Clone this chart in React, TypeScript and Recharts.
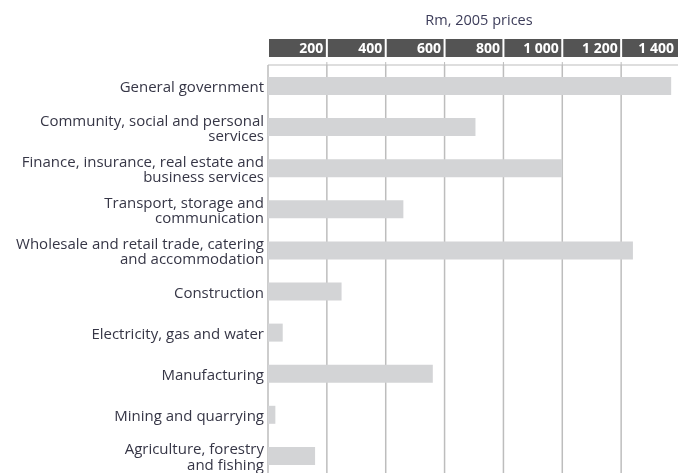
import { BarChart, Bar, XAxis, YAxis, CartesianGrid } from 'recharts';

const categories = [
  'General government',
  'Community, social and personal\nservices',
  'Finance, insurance, real estate and\nbusiness services',
  'Transport, storage and\ncommunication',
  'Wholesale and retail trade, catering\nand accommodation',
  'Construction',
  'Electricity, gas and water',
  'Manufacturing',
  'Mining and quarrying',
  'Agriculture, forestry\nand fishing',
];
const values = [1370, 705, 1000, 460, 1240, 250, 50, 560, 25, 160];
const xTicks = [200, 400, 600, 800, 1000, 1200, 1400];

const data = categories.map((name, i) => ({ name, value: values[i] }));

const PLOT_W = 412;
const STEP = (PLOT_W * 200) / 1400;
const VISIBLE_RIGHT = 666; // last header label stays inside the page
const FONT = '"Open Sans", sans-serif';

const fmt = (v: number) =>
  v >= 1000 ? `${Math.floor(v / 1000)} ${String(v % 1000).padStart(3, '0')}` : String(v);

// dark header cell ending at each tick, label right-aligned in it
function HeaderTick(props: any) {
  const { x, y, payload } = props;
  return (
    <g>
      <rect x={x - STEP + 1} y={y - 21} width={STEP - 2} height={18} fill="#545454" />
      <text
        x={Math.min(x - 3.5, VISIBLE_RIGHT)}
        y={y - 7}
        textAnchor="end"
        fill="#fff"
        fontSize={14}
        fontWeight={700}
        fontFamily={FONT}
      >
        {fmt(payload.value)}
      </text>
    </g>
  );
}

function CategoryTick(props: any) {
  const { x, y, payload } = props;
  const lines = String(payload.value).split('\n');
  const lh = 15.5;
  const top = y + 1.5 - ((lines.length - 1) * lh) / 2;
  return (
    <text x={x} y={top} textAnchor="end" fill="#363646" fontSize={15} fontFamily={FONT}>
      {lines.map((l, i) => (
        <tspan key={i} x={x} y={top + i * lh} dy="0.35em">
          {l}
        </tspan>
      ))}
    </text>
  );
}

export default function App() {
  return (
    <div style={{ position: 'fixed', left: 8, top: 8 }}>
      <BarChart
        width={672}
        height={468}
        data={data}
        layout="vertical"
        margin={{ top: 0, right: 0, bottom: 0, left: 0 }}
      >
        <CartesianGrid horizontal={false} stroke="#bdbdbd" strokeWidth={1.5} />
        <XAxis
          type="number"
          orientation="top"
          domain={[0, 1400]}
          ticks={xTicks}
          interval={0}
          height={57}
          tickSize={3}
          tickMargin={2}
          stroke="#bdbdbd"
          tick={<HeaderTick />}
          label={{ value: 'Rm, 2005 prices', position: 'insideTop', offset: 6.5, dx: 5, fill: '#3d3d5a', fontSize: 14.5, fontFamily: FONT }}
        />
        <YAxis
          type="category"
          dataKey="name"
          width={260}
          axisLine={false}
          tickLine={false}
          tickSize={0}
          tickMargin={4}
          interval={0}
          tick={<CategoryTick />}
        />
        <Bar dataKey="value" fill="#d3d4d6" barSize={18} isAnimationActive={false} />
      </BarChart>
    </div>
  );
}
